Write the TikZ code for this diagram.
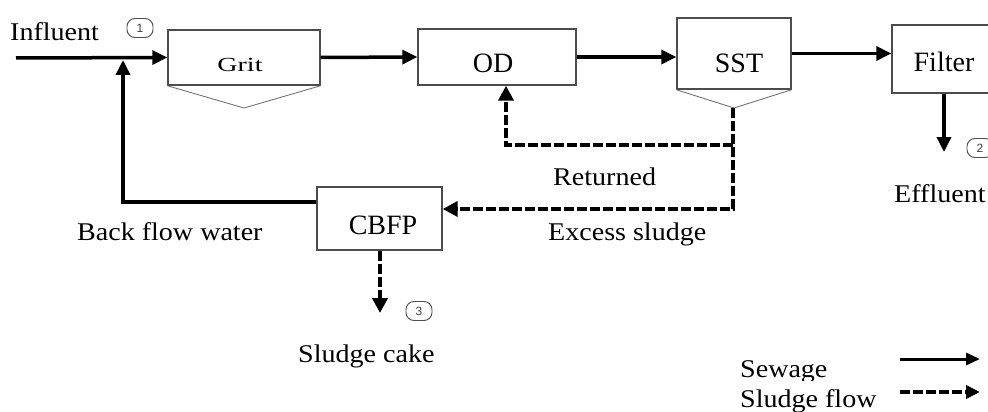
\documentclass[tikz,border=0pt]{standalone}
\usepackage{fontspec}
\setmainfont{Liberation Serif}
\newfontfamily\widefont{Liberation Serif}[FakeStretch=1.1]
\newfontfamily\gritfont{Liberation Serif}[FakeStretch=1.4]
\newfontfamily\tagfont{Liberation Sans}
\usetikzlibrary{arrows.meta}

\begin{document}
\begin{tikzpicture}[x=1pt,y=-1pt,
  unit/.style={draw=black!70,line width=1.4pt,fill=white,inner sep=0pt},
  unitname/.style={anchor=base,inner sep=0pt,font=\fontsize{28}{30}\selectfont},
  hopper/.style={draw=black!55,line width=0.9pt},
  lbl/.style={anchor=base west,inner sep=0pt,font=\widefont\fontsize{25.5}{28}\selectfont},
  tag/.style={draw=black!70,line width=0.9pt,rounded corners=8pt,minimum width=26pt,
    minimum height=19pt,inner sep=0pt,font=\tagfont\fontsize{12}{12}\selectfont,text=black!75},
  sewage/.style={line width=3.5pt,-{Triangle[length=15pt,width=14pt]}},
  sludge/.style={line width=4pt,dash pattern=on 10pt off 3pt,-{Triangle[length=15pt,width=15pt]}},
  legsewage/.style={line width=3pt,-{Triangle[length=14pt,width=12pt]}},
  legsludge/.style={line width=3.5pt,dash pattern=on 10pt off 3pt,-{Triangle[length=14pt,width=13pt]}}
]
\useasboundingbox (0,0) rectangle (988,412);

% process units
\node[unit,minimum width=152pt,minimum height=55pt] (grit) at (244,57.5) {};
\node[unit,minimum width=158pt,minimum height=56pt] (od) at (497,57) {};
\node[unit,minimum width=114pt,minimum height=71pt] (sst) at (734,53.5) {};
\node[unit,minimum width=108pt,minimum height=68pt] (filter) at (946,59) {};
\node[unit,minimum width=125pt,minimum height=63pt] (cbfp) at (379.5,218.5) {};

% hopper bottoms
\coordinate (gritapex) at (244,108);
\coordinate (sstapex) at (734,108);
\draw[hopper] (grit.south west) -- (gritapex) -- (grit.south east);
\draw[hopper] (sst.south west) -- (sstapex) -- (sst.south east);

% unit names
\node[unitname,font=\gritfont\fontsize{20}{22}\selectfont] (gritname) at (240,72) {Grit};
\node[unitname] (odname) at (493,73) {OD};
\node[unitname] (sstname) at (739,73) {SST};
\node[unitname] (filtername) at (944,72) {Filter};
\node[unitname] (cbfpname) at (383,234) {CBFP};

% sewage line
\coordinate (inflow) at (16,58);
\coordinate (bfjoin) at (123,60);
\coordinate (bfcorner) at (123,202);
\coordinate (effout) at (944,152);
\draw[sewage] (inflow) -- (grit.west);
\draw[sewage] (grit.east) -- (od.west);
\draw[sewage] (od.east) -- (od.east -| sst.west);
\draw[sewage] (sst.east) -- (sst.east -| filter.west);
\draw[sewage] (effout |- filter.south) -- (effout);
\draw[sewage] (bfcorner -| cbfp.west) -- (bfcorner) -- (bfjoin);

% sludge line
\coordinate (retsplit) at (733,145);
\coordinate (retcorner) at (506,145);
\coordinate (excorner) at (733,209);
\coordinate (cakeout) at (380,313);
\draw[sludge] (sstapex -| retsplit) -- (excorner) -- (excorner -| cbfp.east);
\draw[sludge] (retsplit) -- (retcorner) -- (retcorner |- od.south);
\draw[sludge] (cakeout |- cbfp.south) -- (cakeout);

% stream labels
\node[lbl] (influent) at (10,41) {Influent};
\node[tag] (tag1) at (140,28) {1};
\node[tag] (tag2) at (980,148) {2};
\node[tag] (tag3) at (419,311) {3};
\node[lbl] (effluent) at (894,202) {Effluent};
\node[lbl] (returned) at (553,185) {Returned};
\node[lbl] (excess) at (548,240) {Excess sludge};
\node[lbl] (backflow) at (77,240) {Back flow water};
\node[lbl] (cake) at (298,362) {Sludge cake};

% legend
\begin{scope}
  \clip (700,300) rectangle (900,380);
  \node[lbl] (sewagekey) at (740,377) {Sewage};
\end{scope}
\node[lbl] (sludgekey) at (740,407) {Sludge flow};
\coordinate (lsa) at (900,359);
\coordinate (lsb) at (980,359);
\coordinate (lda) at (900,392);
\coordinate (ldb) at (980,392);
\draw[legsewage] (lsa) -- (lsb);
\draw[legsludge] (lda) -- (ldb);
\end{tikzpicture}
\end{document}
